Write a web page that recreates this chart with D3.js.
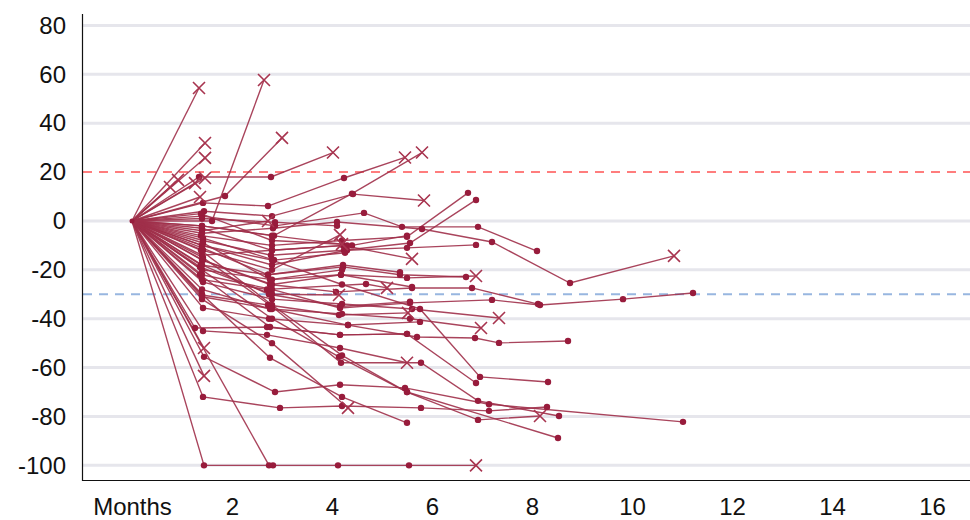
<!DOCTYPE html>
<html>
<head>
<meta charset="utf-8">
<script src="https://cdn.jsdelivr.net/npm/d3@7"></script>
<style>
  html, body { margin: 0; padding: 0; background: #fff; }
  svg { display: block; }
  text { font-family: "Liberation Sans", Arial, sans-serif; }
</style>
</head>
<body>
<svg id="chart" width="970" height="520"></svg>
<script>
// ---- data (months since baseline, % change from baseline) ----
const trajectories = [
  [[0,0],[1.34,54.4]],
  [[0,0],[1.6,0],[2.64,57.7]],
  [[0,0],[1.86,10.2],[3.0,34]],
  [[0,0],[1.34,18],[2.78,18],[4.02,28]],
  [[0,0],[1.46,31.9]],
  [[0,0],[1.46,25.8]],
  [[0,0],[1.46,17.6]],
  [[0,0],[1.26,15.5]],
  [[0,0],[0.92,16.8]],
  [[0,0],[0.76,13.9]],
  [[0,0],[1.36,9.8]],
  [[0,0],[1.42,7.4],[2.72,6.1],[4.24,17.6],[5.46,26]],
  [[0,0],[1.4,-2],[2.84,-6],[4.4,11.2],[5.8,28]],
  [[0,0],[1.44,4],[2.8,2],[4.42,11],[5.84,8.4]],
  [[0,0],[1.4,-4],[2.72,0]],
  [[0,0],[1.38,-6],[2.8,-10],[4.2,-8],[5.5,-6.5],[6.72,11.5]],
  [[0,0],[1.42,-8],[2.78,-14],[4.24,-12],[5.56,-9],[6.88,8.6]],
  [[0,0],[1.4,2],[2.86,-2],[4.64,3.3],[5.4,-2.4],[6.92,-2.4],[8.1,-12.3]],
  [[0,0],[1.4,-5],[2.82,-3],[4.1,-0.4],[5.8,-3.3],[7.2,-8.6],[8.76,-25.4],[10.84,-14.3]],
  [[0,0],[1.4,-10],[2.8,-18],[4.3,-12],[5.5,-11],[6.88,-9.8]],
  [[0,0],[1.42,-12],[2.8,-20],[4.16,-5.7]],
  [[0,0],[1.4,-14],[2.8,-12],[4.22,-10],[5.6,-15.5]],
  [[0,0],[1.38,-18],[2.72,-22],[4.22,-18.8],[5.36,-22],[6.68,-22.9]],
  [[0,0],[1.4,-20],[2.8,-24],[4.18,-22],[5.5,-23.3],[6.88,-22.5]],
  [[0,0],[1.4,-16],[2.76,-26],[4.08,-29],[5.6,-27.4],[6.8,-27.4],[8.12,-34]],
  [[0,0],[1.4,-22],[2.8,-28],[4.16,-35.6],[5.56,-33.5],[7.2,-32.3],[8.16,-34.4],[9.82,-32],[11.22,-29.5]],
  [[0,0],[1.36,-18.8],[2.8,-30],[4.14,-30.3]],
  [[0,0],[1.4,-24],[2.7,-28],[4.68,-25.8],[5.1,-27.4]],
  [[0,0],[1.4,-30.3],[2.72,-34.4],[4.14,-38.5],[5.52,-37.6]],
  [[0,0],[1.42,-25],[2.8,-32],[4.2,-34],[5.6,-36],[7.34,-39.7]],
  [[0,0],[1.4,-28],[2.76,-36],[4.2,-38],[5.56,-40],[6.98,-43.8]],
  [[0,0],[1.42,-35.6],[2.74,-40],[4.32,-42.6],[5.7,-47.5],[6.86,-47.9],[7.34,-49.9],[8.72,-49.1]],
  [[0,0],[1.26,-43.8],[2.7,-43.4],[4.16,-46.6],[5.5,-46.2],[6.88,-66.3]],
  [[0,0],[1.4,-10],[2.8,-16],[4.2,-26],[5.76,-36],[6.96,-63.8],[8.32,-65.9]],
  [[0,0],[1.42,-45],[2.7,-46.6],[4.16,-52],[5.5,-58]],
  [[0,0],[1.44,-52]],
  [[0,0],[1.44,-63.4]],
  [[0,0],[1.44,-55.6],[2.86,-70],[4.16,-67],[5.46,-68.3],[7.14,-75],[11.02,-82.2]],
  [[0,0],[1.42,-72],[2.96,-76.5],[4.2,-75.7],[5.78,-76.5],[7.14,-77.7],[8.3,-76.1]],
  [[0,0],[1.44,-100],[2.82,-100],[4.12,-100],[5.54,-100],[6.88,-100]],
  [[0,0],[2.74,-100]],
  [[0,0],[1.4,-32],[2.8,-50],[4.32,-76.5]],
  [[0,0],[1.4,-20],[2.8,-40],[4.14,-55.6],[5.5,-70],[8.52,-88.8]],
  [[0,0],[1.42,-15],[2.8,-35],[4.18,-58],[5.78,-58],[6.92,-73.6],[8.54,-79.8]],
  [[0,0],[1.38,-12],[2.8,-34.4],[4.2,-55],[5.5,-70],[6.92,-81.4],[8.16,-79.8]],
  [[0,0],[1.4,-30],[2.76,-56],[4.2,-72],[5.5,-82.6]],
  [[0,0],[1.4,-3],[2.8,-12],[4.3,-10]],
  [[0,0],[1.42,-7],[2.84,-16],[4.26,-13]],
  [[0,0],[1.4,-11],[2.72,-22],[4.22,-18],[5.36,-21]],
  [[0,0],[1.4,-2],[2.8,-6],[4.4,-10],[5.5,-6]],
  [[0,0],[1.38,3],[2.8,-8],[4.2,-9.5]],
  [[0,0],[1.42,-16],[2.8,-26],[4.18,-22],[5.6,-27]],
  [[0,0],[1.4,-18],[2.74,-30],[4.16,-35],[5.56,-33]],
  [[0,0],[1.36,-22],[2.76,-43.4],[4.16,-46.6],[5.5,-46.2]],
  [[0,0],[1.4,-31],[2.8,-36],[4.32,-42.6],[5.76,-41.3]],
  [[0,0],[1.4,1],[2.86,-0.5],[4.1,-2]],
  [[0,0],[1.42,-9],[2.76,-24],[4.2,-20]]
];
const endMarkers = [
  "x","x","x","x","x","x","x","x","x","x","x","x","x","x","x",
  "o","o","o","x","o","x","x","o","x","o","o","x","x","x","x",
  "x","o","o","o","x","x","x","o","o","x","o","x","o","o","x",
  "o","o","o","o","o","x","o","o","o","o","o","o"
];
const xTicks = [0, 2, 4, 6, 8, 10, 12, 14, 16];
const xTickLabels = ["Months", "2", "4", "6", "8", "10", "12", "14", "16"];
const yTicks = [80, 60, 40, 20, 0, -20, -40, -60, -80, -100];
const upperThreshold = 20;
const lowerThreshold = -30;

// ---- layout ----
const svg = d3.select("#chart");
const L = 82, R = 970, T = 14, B = 480;
const x = d3.scaleLinear().domain([-1, 16.76]).range([L, R]);
const y = d3.scaleLinear().domain([-106, 84.7]).range([B, T]);

const lineColor = "#a0304a";
const dotColor = "#981c3c";

// gridlines
svg.append("g").selectAll("line")
  .data(yTicks.filter(v => v !== upperThreshold))
  .join("line")
  .attr("x1", L + 1).attr("x2", R)
  .attr("y1", d => y(d)).attr("y2", d => y(d))
  .attr("stroke", "#e6e6ec").attr("stroke-width", 3);

// threshold lines
svg.append("line")
  .attr("x1", L + 1).attr("x2", R)
  .attr("y1", y(upperThreshold)).attr("y2", y(upperThreshold))
  .attr("stroke", "#ff7d7d").attr("stroke-width", 2).attr("stroke-dasharray", "9,7");
svg.append("line")
  .attr("x1", L + 1).attr("x2", R)
  .attr("y1", y(lowerThreshold)).attr("y2", y(lowerThreshold))
  .attr("stroke", "#98b6e0").attr("stroke-width", 2).attr("stroke-dasharray", "9,7");

// axes
const yAxis = d3.axisLeft(y).tickValues(yTicks).tickSize(0).tickPadding(16)
  .tickFormat(d => String(d));
const yg = svg.append("g").attr("transform", `translate(${L},0)`).call(yAxis);
yg.select(".domain").remove();
yg.selectAll("text").attr("font-size", 24).attr("fill", "#111")
  .attr("font-family", "'Liberation Sans', Arial, sans-serif");

const xAxis = d3.axisBottom(x).tickValues(xTicks).tickSize(0).tickPadding(18)
  .tickFormat((d, i) => xTickLabels[i]);
const xg = svg.append("g").attr("transform", `translate(0,${B})`).call(xAxis);
xg.select(".domain").remove();
xg.selectAll("text").attr("font-size", 24).attr("fill", "#111")
  .attr("font-family", "'Liberation Sans', Arial, sans-serif");

svg.append("path")
  .attr("d", `M${L + 0.5},${T}V${B + 0.5}H${R}`)
  .attr("fill", "none").attr("stroke", "#111").attr("stroke-width", 1.2);

// lines
const lineGen = d3.line().x(d => x(d[0])).y(d => y(d[1]));
svg.append("g").selectAll("path")
  .data(trajectories)
  .join("path")
  .attr("d", lineGen)
  .attr("fill", "none")
  .attr("stroke", lineColor)
  .attr("stroke-width", 1.4)
  .attr("stroke-opacity", 0.9);

// dots (all visits except the final one when it is an X)
const dotData = [];
const xData = [];
trajectories.forEach((t, i) => {
  t.forEach((p, j) => {
    if (j === 0) return;
    const last = j === t.length - 1;
    if (last && endMarkers[i] === "x") xData.push(p);
    else dotData.push(p);
  });
});
svg.append("g").selectAll("circle")
  .data(dotData)
  .join("circle")
  .attr("cx", d => x(d[0])).attr("cy", d => y(d[1]))
  .attr("r", 3.2)
  .attr("fill", dotColor);

const s = 6;
svg.append("g").selectAll("path")
  .data(xData)
  .join("path")
  .attr("d", d => {
    const cx = x(d[0]), cy = y(d[1]);
    return `M${cx - s},${cy - s}L${cx + s},${cy + s}M${cx - s},${cy + s}L${cx + s},${cy - s}`;
  })
  .attr("stroke", "#a8344f").attr("stroke-width", 1.6).attr("fill", "none");

// origin marker
svg.append("circle")
  .attr("cx", x(0)).attr("cy", y(0)).attr("r", 2.5).attr("fill", dotColor);
</script>
</body>
</html>
